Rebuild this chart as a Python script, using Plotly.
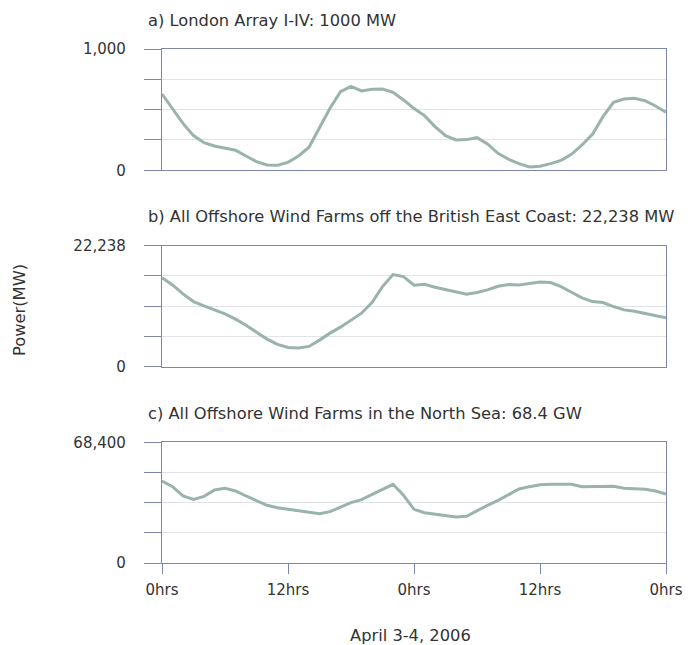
import plotly.graph_objects as go

hours = list(range(49))

london_mw = [629, 511, 387, 286, 228, 200, 181, 165, 118, 71, 44, 41, 66, 118, 190, 346,
             511, 649, 692, 654, 668, 670, 643, 580, 510, 451, 360, 286, 250, 253, 269, 217,
             140, 91, 55, 27, 33, 55, 82, 132, 209, 297, 442, 561, 588, 594, 574, 530, 478]

east_coast_mw = [16372, 15028, 13379, 11974, 11180, 10446, 9713, 8736, 7636, 6353, 5070, 4093,
                 3543, 3421, 3726, 4887, 6170, 7270, 8492, 9836, 11790, 14723, 16922, 16555,
                 14967, 15150, 14601, 14173, 13745, 13318, 13623, 14112, 14784, 15089, 15028,
                 15273, 15578, 15456, 14723, 13684, 12646, 11974, 11790, 11057, 10446, 10202,
                 9836, 9469, 8980]

north_sea_mw = [46482, 43270, 37979, 36090, 37790, 41380, 42325, 40813, 37979, 35145, 32688,
                31366, 30421, 29665, 28720, 27965, 29098, 31744, 34200, 35900, 38924, 41947,
                44592, 38357, 30421, 28531, 27587, 27020, 26075, 26453, 29665, 32688, 35522,
                38735, 41947, 43270, 44403, 44592, 44781, 44592, 43270, 43459, 43459, 43459,
                42325, 41947, 41758, 40813, 39113]

panel_titles = ["a) London Array I-IV: 1000 MW",
                "b) All Offshore Wind Farms off the British East Coast: 22,238 MW",
                "c) All Offshore Wind Farms in the North Sea: 68.4 GW"]
panel_max = [1000, 22238, 68400]
panel_max_labels = ["1,000", "22,238", "68,400"]
x_tickvals = [0, 12, 24, 36, 48]
x_ticktext = ["0hrs", "12hrs", "0hrs", "12hrs", "0hrs"]
y_title = "Power(MW)"
x_title = "April 3-4, 2006"

FONT = "DejaVu Sans"
TEXT = "#333333"
FRAME = "#7f86ab"
GRID = "#e2e2ea"
LINE = "#9ab3ad"

series = [london_mw, east_coast_mw, north_sea_mw]
domains = [[0.764, 1.0], [0.3819, 0.6173], [0.0, 0.2348]]
title_y = [1.0564, 0.6732, 0.2918]

fig = go.Figure()
layout = dict(
    width=695, height=645,
    margin=dict(l=162, r=24, t=49, b=82),
    paper_bgcolor="white", plot_bgcolor="white",
    showlegend=False,
    font=dict(family=FONT, size=15, color=TEXT),
)
annotations = []
for i in range(3):
    sfx = "" if i == 0 else str(i + 1)
    fig.add_trace(go.Scatter(x=hours, y=series[i], mode="lines",
                             line=dict(color=LINE, width=3),
                             xaxis="x" + sfx, yaxis="y" + sfx, hoverinfo="skip"))
    mx = panel_max[i]
    yvals = [0, mx * 0.25, mx * 0.5, mx * 0.75, mx]
    ytext = ["0", "", "", "", panel_max_labels[i]]
    bottom = (i == 2)
    layout["xaxis" + sfx] = dict(
        domain=[0, 1], anchor="y" + sfx, range=[0, 48],
        showline=True, mirror=True, linecolor=FRAME, linewidth=1.3,
        showgrid=False, zeroline=False,
        tickvals=x_tickvals, ticktext=x_ticktext,
        showticklabels=bottom, ticks="outside" if bottom else "",
        ticklen=10, tickcolor=FRAME, tickwidth=1.3,
        ticklabelstandoff=3,
        tickfont=dict(family=FONT, size=15, color=TEXT),
    )
    layout["yaxis" + sfx] = dict(
        domain=domains[i], anchor="x" + sfx, range=[0, mx],
        showline=True, mirror=True, linecolor=FRAME, linewidth=1.3,
        showgrid=True, gridcolor=GRID, gridwidth=1.3, zeroline=False,
        tickvals=yvals, ticktext=ytext,
        ticks="outside", ticklen=17, tickcolor=FRAME, tickwidth=1.3,
        ticklabelstandoff=15,
        tickfont=dict(family=FONT, size=15, color=TEXT),
    )
    annotations.append(dict(text=panel_titles[i], xref="paper", yref="paper",
                            x=-0.032, y=title_y[i], xanchor="left", yanchor="middle",
                            showarrow=False, font=dict(family=FONT, size=16.3, color=TEXT)))

annotations.append(dict(text=x_title, xref="paper", yref="paper", x=0.494, y=-0.142,
                        xanchor="center", yanchor="middle", showarrow=False,
                        font=dict(family=FONT, size=16.3, color=TEXT)))
annotations.append(dict(text=y_title, xref="paper", yref="paper", x=-0.284, y=0.492,
                        xanchor="center", yanchor="middle", textangle=-90, showarrow=False,
                        font=dict(family=FONT, size=16.3, color=TEXT)))
layout["annotations"] = annotations
fig.update_layout(**layout)
fig.write_html("out.html", config={"displayModeBar": False},
               post_script="document.body.style.margin='0';document.body.style.overflow='hidden';")
